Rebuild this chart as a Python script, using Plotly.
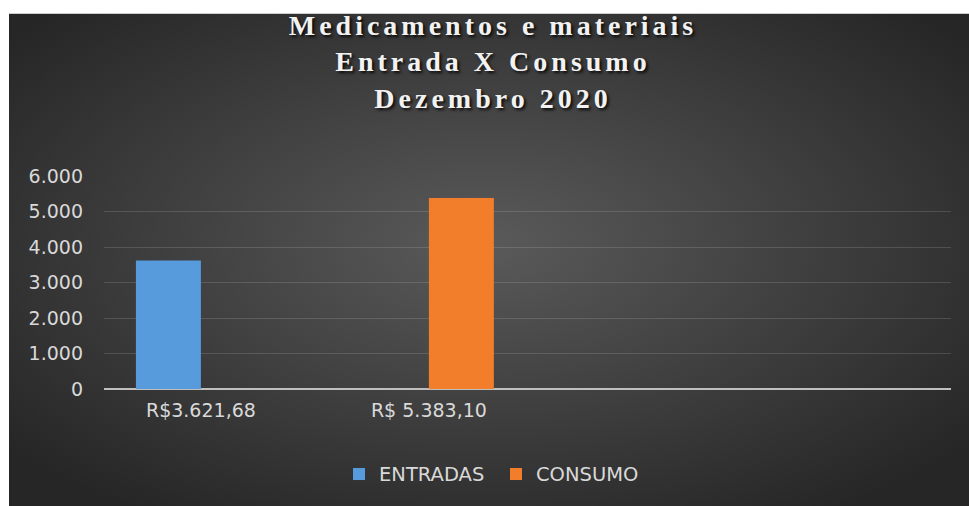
import base64
import plotly.graph_objects as go

# ---- data ----
categories = ["R$3.621,68", "R$ 5.383,10"]
entradas = [3621.68, 0]
consumo = [0, 5383.10]
series_names = ["ENTRADAS", "CONSUMO"]
title_lines = ["Medicamentos e materiais", "Entrada X Consumo", "Dezembro 2020"]
y_ticks = [0, 1000, 2000, 3000, 4000, 5000, 6000]

# ---- layout geometry ----
W, H = 969, 506
ML, MT = 104, 176
MR = W - 951
MB = H - 391
PW, PH = W - ML - MR, H - MT - MB

# dark radial-gradient panel (figure-pixel box), overshooting right/bottom edges
BX0, BY0, BX1, BY1 = 9, 12, W + 12, H + 12
bw, bh = BX1 - BX0, BY1 - BY0
svg = (
    f'<svg xmlns="http://www.w3.org/2000/svg" width="{bw}" height="{bh}" '
    f'viewBox="0 0 {bw} {bh}" preserveAspectRatio="none"><defs>'
    '<radialGradient id="g" cx="49%" cy="46%" r="64%">'
    '<stop offset="0" stop-color="#5a5a5a"/><stop offset="1" stop-color="#262626"/>'
    '</radialGradient></defs>'
    f'<rect width="{bw}" height="{bh}" fill="url(#g)"/></svg>'
)
src = "data:image/svg+xml;base64," + base64.b64encode(svg.encode()).decode()

img_x = (BX0 - ML) / PW
img_y = 1 + (MT - BY0) / PH
img_sx = bw / PW
img_sy = bh / PH

fig = go.Figure()
fig.add_trace(go.Bar(x=categories, y=entradas, name=series_names[0],
                     marker=dict(color="#589bdc", line=dict(width=0))))
fig.add_trace(go.Bar(x=categories, y=consumo, name=series_names[1],
                     marker=dict(color="#f27d2a", line=dict(width=0))))

span = "<span style='letter-spacing:4px'>{}</span>"
title_text = "<br>".join(span.format(t) for t in title_lines)

sans = "DejaVu Sans, Lato, sans-serif"
fig.update_layout(
    width=W, height=H, autosize=False,
    margin=dict(l=ML, r=MR, t=MT, b=MB, pad=0),
    paper_bgcolor="white",
    plot_bgcolor="rgba(0,0,0,0)",
    separators=",.",
    barmode="group",
    bargap=0.43,
    bargroupgap=0,
    images=[dict(source=src, xref="paper", yref="paper", x=img_x, y=img_y,
                 sizex=img_sx, sizey=img_sy, xanchor="left", yanchor="top",
                 sizing="stretch", layer="below")],
    title=dict(
        text=title_text,
        x=493 / W, xanchor="center", xref="container",
        y=1 - 35 / H, yanchor="top", yref="container",
        font=dict(family="Liberation Serif, Times New Roman, serif", size=28,
                  color="#f2f2f2", weight="bold",
                  shadow="2px 2px 3px rgba(0,0,0,0.85)"),
    ),
    xaxis=dict(
        type="category",
        range=[-0.425, 3.29],
        showgrid=False, zeroline=False, showline=False,
        ticks="", ticklabelstandoff=8,
        tickfont=dict(family=sans, size=19, color="#d9d9d9"),
    ),
    yaxis=dict(
        range=[0, 6000],
        tickvals=y_ticks, tickformat=",.0f",
        showgrid=True, gridcolor="rgba(217,217,217,0.17)", gridwidth=1.3,
        zeroline=True, zerolinecolor="#bfbfbf", zerolinewidth=2,
        showline=False, ticks="", ticklabelstandoff=20,
        tickfont=dict(family=sans, size=19, color="#d9d9d9"),
    ),
    legend=dict(
        orientation="h", x=(496 - ML) / PW, xanchor="center",
        y=-(477 - 391) / PH, yanchor="middle",
        bgcolor="rgba(0,0,0,0)",
        font=dict(family=sans, size=19.5, color="#d9d9d9"),
        itemwidth=30, entrywidth=112,
    ),
    showlegend=True,
)

fig.write_html(
    "out.html",
    config={"displayModeBar": False},
    post_script="document.body.style.margin='0';document.body.style.overflow='hidden';",
)
